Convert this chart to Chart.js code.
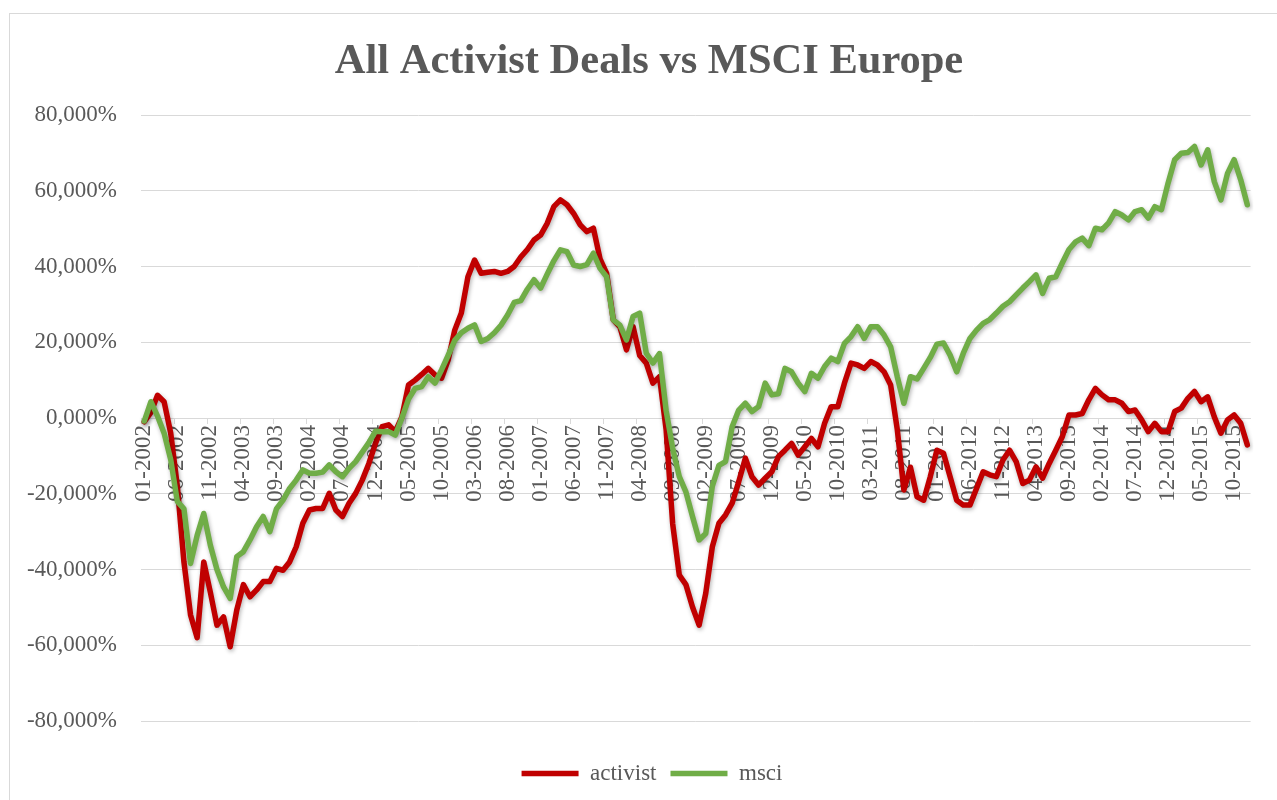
<!DOCTYPE html>
<html lang="en">
<head>
    <meta charset="UTF-8">
    <title>All Activist Deals vs MSCI Europe</title>
    <script src="https://cdn.jsdelivr.net/npm/chart.js"></script>
    <style>
        html, body { margin: 0; padding: 0; background: #fff; overflow: hidden; }
        #frame {
            position: absolute; left: 9px; top: 13px;
            width: 1300px; height: 820px;
            border: 1px solid #d9d9d9;
        }
        #wrap { position: absolute; left: 0; top: 0; width: 1277px; height: 800px; }
    </style>
</head>
<body>
    <div id="frame"></div>
    <div id="wrap"><canvas id="chart"></canvas></div>
    <script>
        // monthly, 01-2002 .. 12-2015
        const startYear = 2002;
        const monthCount = 168;
        const months = [];
        for (let i = 0; i < monthCount; i++) {
            const m = (i % 12) + 1;
            months.push((m < 10 ? '0' + m : '' + m) + '-' + (startYear + Math.floor(i / 12)));
        }

        // cumulative return, in %
        const activist = [
            -1, 1.5, 6, 4.3, -4, -18, -38, -52, -58, -38,
            -46, -54.7, -52.5, -60.4, -50.7, -44, -47.2, -45.4, -43.2, -43.2,
            -39.7, -40.2, -38, -34, -27.8, -24.3, -23.9, -23.9, -19.9, -24.3,
            -26, -22.5, -19.9, -16.4, -12, -6.7, -2.3, -1.8, -3.6, 0.3,
            8.7, 10, 11.5, 13.1, 11.4, 10.5, 15.3, 23.2, 27.7, 37.3,
            41.7, 38.2, 38.5, 38.7, 38.2, 38.7, 40, 42.5, 44.5, 47,
            48.3, 51.4, 55.8, 57.6, 56.3, 54, 51, 49.2, 50.1, 42,
            38.2, 25.9, 24.1, 18, 24.1, 16.5, 14.5, 9.2, 10.9, -3,
            -28, -41.5, -44, -49.9, -54.7, -46.3, -34, -27.8, -25.6, -22.5,
            -16.8, -10.6, -15.5, -17.7, -15.9, -14.2, -10.2, -8.5, -6.7, -9.8,
            -7.6, -5.4, -7.6, -1.4, 3, 3, 9.2, 14.5, 14, 13.1,
            14.9, 14, 12.2, 8.7, -3, -19, -13, -20.8, -21.7, -15.5,
            -8.5, -9.3, -15.5, -21.7, -23, -23, -18.6, -14.2, -15, -15.5,
            -11.1, -8.5, -11.5, -17.3, -16.4, -12.9, -15.9, -12, -8.5, -4.9,
            0.8, 0.8, 1.2, 4.8, 7.8, 6.1, 4.8, 4.8, 3.9, 1.7,
            2.1, -0.5, -3.6, -1.4, -3.6, -3.6, 1.7, 2.6, 5.2, 7,
            4.3, 5.6, 0.3, -4, -0.5, 0.8, -1.4, -7.1
        ];
        const msci = [
            -0.8, 4.3, 0.5, -4, -11, -22, -24, -38.4, -31, -25.2,
            -33.6, -40, -44.6, -47.6, -36.6, -35.3, -32.2, -28.7, -26, -30,
            -24, -21.7, -18.6, -16.4, -13.7, -14.6, -14.6, -14.3, -12.4, -14.2,
            -15.5, -13.3, -11.5, -9, -6.5, -3.5, -3.6, -3.6, -4.5, 0,
            5, 7.8, 8.3, 10.9, 9.2, 12.7, 16.5, 20.5, 22.5, 23.7,
            24.6, 20.2, 21, 22.5, 24.5, 27.2, 30.5, 31, 34, 36.5,
            34.3, 38, 41.5, 44.4, 43.9, 40.4, 40, 40.5, 43.5, 39.5,
            37.3, 25.9, 24.5, 20.6, 26.8, 27.7, 17.1, 14.5, 17, 2,
            -8, -15.5, -19.5, -26, -32.2, -30.5, -18, -12.5, -11.5, -2.3,
            2.1, 3.9, 1.7, 3, 9.2, 6.1, 6.4, 13.1, 12.2, 9.2,
            7, 11.8, 10.5, 13.6, 15.8, 14.9, 19.7, 21.5, 24.1, 21,
            24.1, 24.1, 21.9, 18.8, 10.9, 3.9, 10.9, 10.3, 13.1, 16,
            19.5, 19.8, 16.6, 12.2, 17.1, 21, 23.2, 25, 26, 27.7,
            29.5, 30.7, 32.5, 34.3, 36, 37.8, 32.9, 36.9, 37.3, 41,
            44.5, 46.5, 47.5, 45.5, 50.1, 49.7, 51.5, 54.5, 53.6, 52.3,
            54.5, 55, 52.8, 55.8, 55, 62, 68.2, 69.9, 70.1, 71.7,
            66.8, 70.8, 62.4, 57.6, 64.6, 68.2, 62.9, 56.3
        ];
        const yTicks = { min: -80, max: 80, step: 20 };

        const textColor = '#595959';
        const gridColor = '#d9d9d9';
        const serif = "'Liberation Serif', 'Times New Roman', serif";

        // soft drop shadow under the lines, like the spreadsheet chart
        const lineShadow = {
            id: 'lineShadow',
            beforeDatasetsDraw(chart) {
                const ctx = chart.ctx;
                ctx.save();
                ctx.shadowColor = 'rgba(0, 0, 0, 0.3)';
                ctx.shadowBlur = 4;
                ctx.shadowOffsetX = 1;
                ctx.shadowOffsetY = 2;
            },
            afterDatasetsDraw(chart) {
                chart.ctx.restore();
            }
        };

        // title and legend sit a bit right of centre in the original
        const boxNudge = {
            id: 'boxNudge',
            afterLayout(chart) {
                chart.legend.left += 22;
                chart.legend.right += 22;
                chart.titleBlock.left += 19;
                chart.titleBlock.right += 19;
            }
        };

        new Chart(document.getElementById('chart'), {
            type: 'line',
            data: {
                labels: months,
                datasets: [{
                    label: 'activist',
                    data: activist,
                    borderColor: '#c00000',
                    backgroundColor: '#c00000',
                    borderWidth: 5.5,
                    borderCapStyle: 'round',
                    borderJoinStyle: 'round',
                    pointRadius: 0,
                    tension: 0,
                    order: 1
                }, {
                    label: 'msci',
                    data: msci,
                    borderColor: '#70ad47',
                    backgroundColor: '#70ad47',
                    borderWidth: 5.5,
                    borderCapStyle: 'round',
                    borderJoinStyle: 'round',
                    pointRadius: 0,
                    tension: 0,
                    order: 0
                }]
            },
            plugins: [lineShadow, boxNudge],
            options: {
                responsive: true,
                maintainAspectRatio: false,
                animation: false,
                layout: { padding: { top: 37, right: 17, bottom: 5, left: 0 } },
                plugins: {
                    title: {
                        display: true,
                        text: 'All Activist Deals vs MSCI Europe',
                        color: textColor,
                        font: { family: serif, size: 42.5, weight: 'bold' },
                        padding: { top: 0, bottom: 27 }
                    },
                    legend: {
                        position: 'bottom',
                        labels: {
                            color: textColor,
                            font: { family: serif, size: 23 },
                            usePointStyle: true,
                            pointStyle: 'line',
                            pointStyleWidth: 57,
                            padding: 14,
                            sort: (a, b) => a.datasetIndex - b.datasetIndex
                        }
                    },
                    tooltip: { enabled: false }
                },
                scales: {
                    x: {
                        type: 'category',
                        position: { y: 0 },
                        offset: true,
                        border: { display: true, color: gridColor, width: 1 },
                        grid: {
                            offset: true,
                            drawOnChartArea: false,
                            drawTicks: true,
                            tickLength: 5,
                            color: ctx => (ctx.index % 5 === 0 ? gridColor : 'rgba(0,0,0,0)'),
                            tickColor: ctx => (ctx.index % 5 === 0 ? gridColor : 'rgba(0,0,0,0)')
                        },
                        ticks: {
                            autoSkip: false,
                            minRotation: 90,
                            maxRotation: 90,
                            padding: 2,
                            color: textColor,
                            font: { family: serif, size: 23 },
                            callback(value, index) {
                                return index % 5 === 0 ? this.getLabelForValue(value) : '';
                            }
                        }
                    },
                    // empty bottom axis, only keeps room between plot and legend
                    xSpace: {
                        type: 'category',
                        position: 'bottom',
                        grid: { display: false },
                        border: { display: false },
                        ticks: { display: false },
                        afterFit(scale) { scale.height = 27; }
                    },
                    y: {
                        min: yTicks.min,
                        max: yTicks.max,
                        afterFit(scale) { scale.width = 141; },
                        border: { display: false },
                        grid: { color: gridColor, lineWidth: 1, drawTicks: false },
                        ticks: {
                            stepSize: yTicks.step,
                            padding: 24,
                            color: textColor,
                            font: { family: serif, size: 23 },
                            callback: v => v.toFixed(3).replace('.', ',') + '%'
                        }
                    }
                }
            }
        });
    </script>
</body>
</html>
